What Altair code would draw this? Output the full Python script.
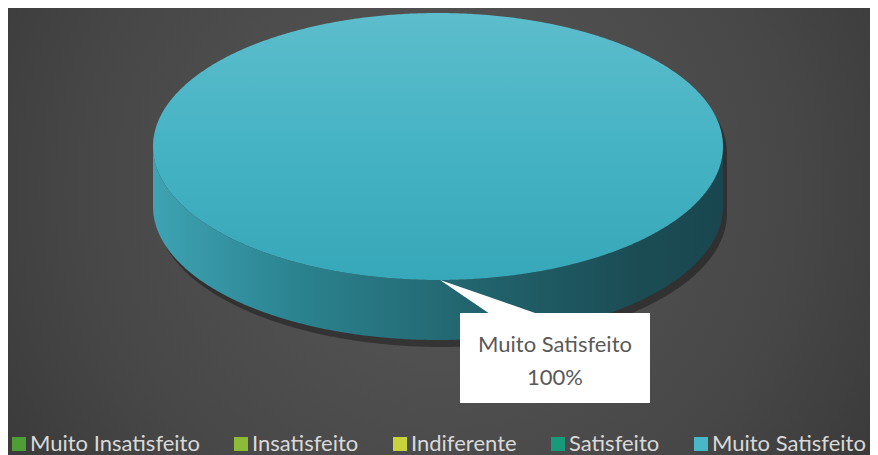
import altair as alt
import numpy as np
import pandas as pd

# ---- data ----
categorias = ["Muito Insatisfeito", "Insatisfeito", "Indiferente", "Satisfeito", "Muito Satisfeito"]
valores = [0, 0, 0, 0, 100]
cores = ["#4f9e35", "#8cbb38", "#c6d33a", "#179a7a", "#4ab7c8"]

# ---- layout constants ----
W, H = 862, 447
CX, CY, RX, RY, DEPTH = 430, 138.5, 285, 133.5, 60
BOX_CX, BOX_CY, BOX_W, BOX_H = 547, 350, 190, 90
FONT = "Lato"

dados = pd.DataFrame({"categoria": categorias, "valor": valores})
total = float(sum(valores))

# pie layout: the single non-zero slice spans the full ellipse
t = np.linspace(0, np.pi, 361)
s = RY * np.sin(t)
outline = pd.DataFrame({"x": CX + RX * np.cos(t), "top": CY - s, "bot": CY + s}).sort_values("x")
outline["side_bot"] = outline["bot"] + DEPTH
shadow = outline.copy()
shadow["x"] = shadow["x"] + 4
shadow["top"] = shadow["top"] + 7
shadow["side_bot"] = shadow["side_bot"] + 7

xs = alt.Scale(domain=[0, W], nice=False, zero=False)
ys = alt.Scale(domain=[0, H], nice=False, zero=False, reverse=True)

bg = alt.Chart(pd.DataFrame({"a": [0]})).mark_rect(
    fill=alt.RadialGradient(
        gradient="radial",
        stops=[alt.GradientStop(color="#585858", offset=0),
               alt.GradientStop(color="#474747", offset=0.55),
               alt.GradientStop(color="#2f2f2f", offset=1)],
        x1=0.5, y1=0.45, r1=0, x2=0.5, y2=0.45, r2=0.75)
).encode(x=alt.value(0), x2=alt.value(W), y=alt.value(0), y2=alt.value(H))

legend_layer = alt.Chart(dados).mark_square(size=10, opacity=1).encode(
    x=alt.value(CX), y=alt.value(CY),
    color=alt.Color("categoria:N", sort=categorias,
                    scale=alt.Scale(domain=categorias, range=cores),
                    legend=alt.Legend(orient="none", legendX=0, legendY=425, direction="horizontal",
                                      columns=5, title=None, symbolType="square", symbolSize=196,
                                      symbolStrokeWidth=0, labelFont=FONT, labelFontSize=22,
                                      labelColor="#d9d9d9", labelOffset=0, columnPadding=30,
                                      labelLimit=400, padding=0, symbolOpacity=1))
)

shadow_layer = alt.Chart(shadow).mark_area(color="#000000", opacity=0.35).encode(
    x=alt.X("x:Q", scale=xs, axis=None),
    y=alt.Y("top:Q", scale=ys, axis=None),
    y2="side_bot:Q")

side = alt.Chart(outline).mark_area(
    color=alt.LinearGradient(
        gradient="linear", x1=0, x2=1, y1=0, y2=0,
        stops=[alt.GradientStop(color="#3ea3b3", offset=0),
               alt.GradientStop(color="#2b8390", offset=0.25),
               alt.GradientStop(color="#22656f", offset=0.55),
               alt.GradientStop(color="#1b4c54", offset=0.85),
               alt.GradientStop(color="#1a474f", offset=1)])
).encode(x=alt.X("x:Q", scale=xs, axis=None),
         y=alt.Y("bot:Q", scale=ys, axis=None),
         y2="side_bot:Q")

top = alt.Chart(outline).mark_area(
    color=alt.LinearGradient(
        gradient="linear", x1=0, x2=0, y1=0, y2=1,
        stops=[alt.GradientStop(color="#5dbdcc", offset=0),
               alt.GradientStop(color="#45b3c4", offset=0.5),
               alt.GradientStop(color="#37a8b9", offset=1)])
).encode(x=alt.X("x:Q", scale=xs, axis=None),
         y=alt.Y("top:Q", scale=ys, axis=None),
         y2="bot:Q")

# callout
lab = dados[dados["valor"] > 0].copy()
lab["label"] = lab["categoria"] + "\n" + (lab["valor"] / total * 100).map(lambda v: f"{v:.0f}%")
lab["x1"] = BOX_CX - BOX_W / 2
lab["x2"] = BOX_CX + BOX_W / 2
lab["y1"] = BOX_CY - BOX_H / 2
lab["y2"] = BOX_CY + BOX_H / 2
lab["tx"] = BOX_CX
lab["ty"] = BOX_CY - 13

tip_x, tip_y = CX + 2, CY + RY
base_l, base_r, base_y = BOX_CX - 65, BOX_CX - 17, BOX_CY - BOX_H / 2 + 1
mid_y = tip_y + (base_y - tip_y) * (base_l - tip_x) / (base_r - tip_x)
pointer = pd.DataFrame({"x": [tip_x, base_l, base_r],
                        "y": [tip_y, mid_y, base_y],
                        "y2": [tip_y, base_y, base_y]})

pointer_layer = alt.Chart(pointer).mark_area(color="white").encode(
    x=alt.X("x:Q", scale=xs, axis=None), y=alt.Y("y:Q", scale=ys, axis=None), y2="y2:Q")

box = alt.Chart(lab).mark_rect(color="white").encode(
    x=alt.X("x1:Q", scale=xs, axis=None), x2="x2:Q",
    y=alt.Y("y1:Q", scale=ys, axis=None), y2="y2:Q")

txt = alt.Chart(lab).mark_text(lineBreak="\n", font=FONT, fontSize=22, color="#595959",
                               lineHeight=33, align="center", baseline="middle").encode(
    x=alt.X("tx:Q", scale=xs, axis=None), y=alt.Y("ty:Q", scale=ys, axis=None), text="label:N")

chart = alt.layer(bg, legend_layer, shadow_layer, side, top, pointer_layer, box, txt).properties(
    width=W, height=H, padding=0, autosize=alt.AutoSizeParams(type="none"),
    background="#3b3b3b"
).configure_view(stroke=None)

chart.save("out.html", embed_options={"renderer": "svg", "actions": False})
